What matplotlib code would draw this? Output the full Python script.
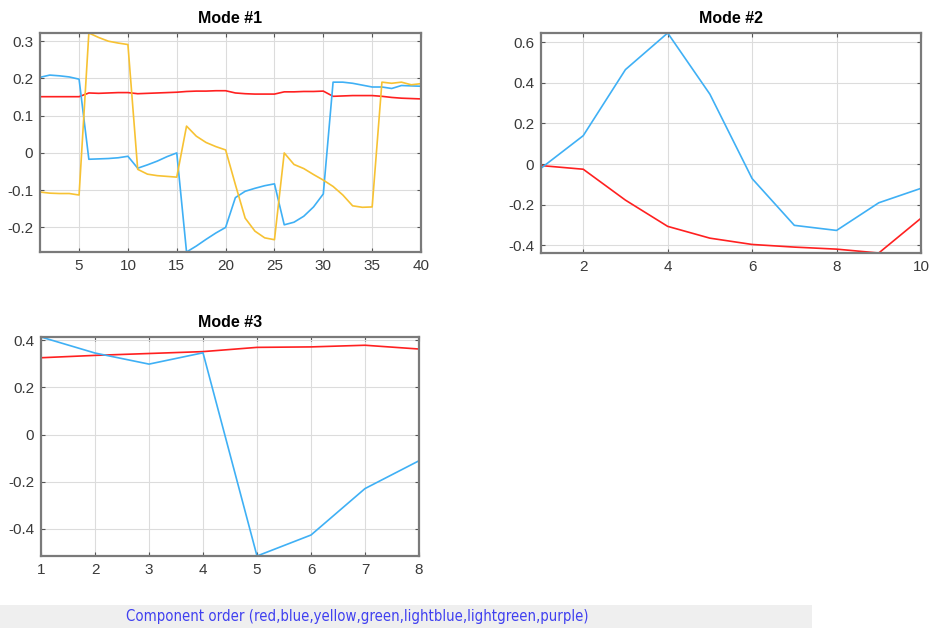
import matplotlib
matplotlib.use("Agg")
import matplotlib.pyplot as plt
import numpy as np

# ---- data ----
m1_x = list(range(1, 41))
m1_red = [0.151, 0.151, 0.151, 0.151, 0.151, 0.161, 0.160, 0.161, 0.162, 0.162,
          0.159, 0.160, 0.161, 0.162, 0.163, 0.165, 0.166, 0.166, 0.167, 0.167,
          0.161, 0.159, 0.158, 0.158, 0.158, 0.164, 0.164, 0.165, 0.165, 0.166,
          0.152, 0.153, 0.154, 0.154, 0.154, 0.152, 0.149, 0.147, 0.146, 0.145]
m1_blue = [0.203, 0.209, 0.207, 0.204, 0.198, -0.017, -0.016, -0.015, -0.013, -0.009,
           -0.041, -0.032, -0.022, -0.010, 0.000, -0.266, -0.250, -0.232, -0.215, -0.200,
           -0.120, -0.103, -0.095, -0.088, -0.083, -0.193, -0.186, -0.170, -0.145, -0.110,
           0.190, 0.190, 0.187, 0.182, 0.177, 0.177, 0.173, 0.181, 0.180, 0.179]
m1_yellow = [-0.105, -0.108, -0.109, -0.109, -0.113, 0.322, 0.310, 0.300, 0.295, 0.291,
             -0.044, -0.057, -0.061, -0.063, -0.065, 0.072, 0.045, 0.028, 0.017, 0.008,
             -0.085, -0.175, -0.210, -0.228, -0.233, 0.000, -0.031, -0.042, -0.058, -0.073,
             -0.090, -0.113, -0.142, -0.146, -0.145, 0.190, 0.187, 0.190, 0.183, 0.186]

m2_x = list(range(1, 11))
m2_blue = [-0.020, 0.140, 0.465, 0.645, 0.344, -0.071, -0.301, -0.326, -0.190, -0.119]
m2_red = [-0.007, -0.025, -0.177, -0.306, -0.364, -0.395, -0.408, -0.418, -0.437, -0.266]

m3_x = list(range(1, 9))
m3_blue = [0.414, 0.346, 0.299, 0.347, -0.515, -0.426, -0.229, -0.111]
m3_red = [0.326, 0.336, 0.344, 0.352, 0.370, 0.372, 0.379, 0.363]

m1_xticks = [5, 10, 15, 20, 25, 30, 35, 40]
m1_yticks = [-0.2, -0.1, 0, 0.1, 0.2, 0.3]
m2_xticks = [2, 4, 6, 8, 10]
m2_yticks = [-0.4, -0.2, 0, 0.2, 0.4, 0.6]
m3_xticks = [1, 2, 3, 4, 5, 6, 7, 8]
m3_yticks = [-0.4, -0.2, 0, 0.2, 0.4]

titles = ["Mode #1", "Mode #2", "Mode #3"]
footer = "Component order (red,blue,yellow,green,lightblue,lightgreen,purple)"

RED = "#ff2020"
BLUE = "#3fb0f5"
YELLOW = "#f7c233"

plt.rcParams['font.family'] = ['Liberation Sans', 'DejaVu Sans']

W, H = 933, 628
fig = plt.figure(figsize=(W / 100, H / 100), dpi=100)


def make_ax(left, top, right, bottom):
    return fig.add_axes([left / W, 1 - bottom / H, (right - left) / W, (bottom - top) / H])


def fmt(v):
    if abs(v) < 1e-9:
        return "0"
    return f"{v:g}"


def style(ax, title, xticks, yticks, xs, series):
    allv = np.concatenate([np.asarray(s) for s in series])
    ax.set_xlim(min(xs), max(xs))
    ax.set_ylim(allv.min(), allv.max())
    ax.set_xticks(xticks)
    ax.set_xticklabels([str(t) for t in xticks])
    ax.set_yticks(yticks)
    ax.set_yticklabels([fmt(t) for t in yticks])
    ax.grid(True, color="#dcdcdc", linewidth=0.8)
    ax.set_axisbelow(True)
    for sp in ax.spines.values():
        sp.set_color("#7a7a7a")
        sp.set_linewidth(1.6)
    ax.tick_params(direction="in", length=3, width=0.8, color="#555555",
                   labelsize=11, labelcolor="#3a3a3a", top=True, right=True, pad=5)
    ax.set_title(title, fontsize=11.5, fontweight="bold", pad=7)


ax1 = make_ax(40, 33, 421, 252)
ax1.plot(m1_x, m1_red, color=RED, lw=1.2)
ax1.plot(m1_x, m1_blue, color=BLUE, lw=1.2)
ax1.plot(m1_x, m1_yellow, color=YELLOW, lw=1.2)
style(ax1, titles[0], m1_xticks, m1_yticks, m1_x, [m1_red, m1_blue, m1_yellow])

ax2 = make_ax(541, 33, 921, 253)
ax2.plot(m2_x, m2_red, color=RED, lw=1.2)
ax2.plot(m2_x, m2_blue, color=BLUE, lw=1.2)
style(ax2, titles[1], m2_xticks, m2_yticks, m2_x, [m2_red, m2_blue])

ax3 = make_ax(41, 337, 419, 556)
ax3.plot(m3_x, m3_red, color=RED, lw=1.2)
ax3.plot(m3_x, m3_blue, color=BLUE, lw=1.2)
style(ax3, titles[2], m3_xticks, m3_yticks, m3_x, [m3_red, m3_blue])

# footer bar
fig.patches.append(plt.Rectangle((0, 0), 812 / W, 23 / H, transform=fig.transFigure,
                                 facecolor="#efefef", edgecolor="none", zorder=0))
fig.text(357 / W, 12 / H, footer, ha="center", va="center", fontsize=10.7,
         color="#4040f0", family=["DejaVu Sans"], fontstretch="condensed")

fig.savefig("out.png", dpi=100)
